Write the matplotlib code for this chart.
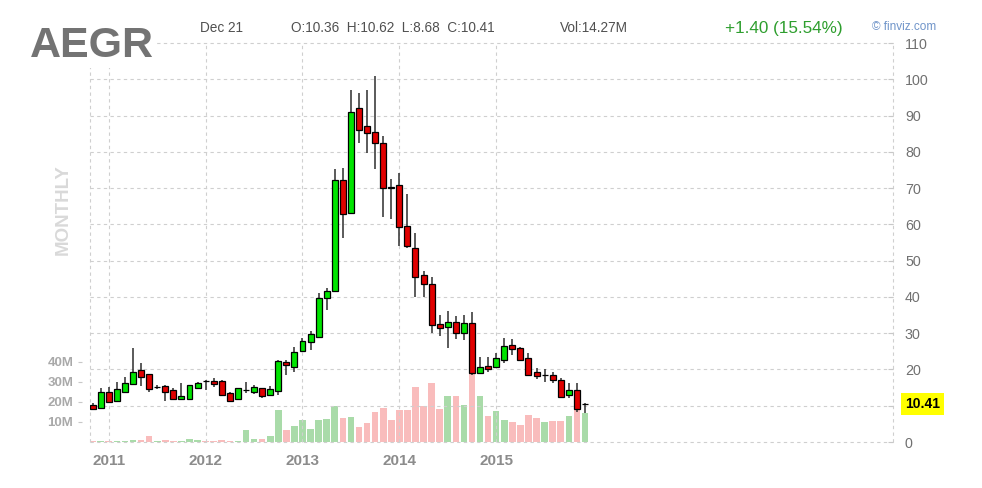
import matplotlib
matplotlib.use("Agg")
import matplotlib.pyplot as plt
import matplotlib.transforms as mtransforms
from matplotlib import font_manager
import numpy as np
import pandas as pd

# ---------------- data ----------------
ticker = "AEGR"
period_label = "MONTHLY"
start_month = "2010-11"

opens = [10.2, 9.3, 13.9, 11.3, 13.9, 16.0, 19.9, 18.8, 15.2, 15.5,
         14.2, 11.9, 11.8, 15.0, 16.9, 16.9, 16.9, 13.4, 11.9, 14.2,
         13.9, 14.8, 13.0, 14.0, 22.1, 20.8, 25.2, 27.7, 29.0, 39.8,
         41.7, 72.2, 63.1, 92.2, 87.1, 85.6, 82.4, 70.4, 70.9, 59.6,
         53.4, 46.0, 43.6, 32.6, 31.6, 33.2, 30.1, 32.9, 19.1, 21.0,
         20.6, 22.6, 26.7, 26.0, 23.1, 19.4, 18.4, 18.5, 17.1, 13.0,
         14.2, 10.36]
highs = [10.8, 14.8, 15.3, 16.6, 18.0, 25.8, 21.7, 18.8, 15.8, 15.7,
         14.8, 16.4, 15.8, 16.6, 17.1, 17.6, 17.1, 13.9, 15.0, 16.6,
         15.7, 14.8, 15.4, 22.6, 22.6, 26.1, 28.6, 30.6, 41.0, 42.4,
         75.2, 75.5, 97.1, 96.3, 97.1, 100.8, 84.4, 72.4, 74.1, 68.4,
         57.7, 47.2, 45.4, 35.0, 36.2, 34.6, 35.0, 35.9, 23.3, 23.3,
         24.6, 28.6, 28.3, 26.3, 24.4, 20.3, 20.1, 19.4, 17.7, 16.2,
         16.4, 10.62]
lows = [8.7, 9.0, 11.0, 11.1, 13.6, 15.7, 15.4, 13.9, 14.6, 11.4,
        11.6, 11.6, 11.6, 14.5, 14.2, 15.3, 12.8, 11.1, 11.8, 13.4,
        13.2, 12.0, 12.8, 13.0, 18.5, 19.4, 24.9, 25.4, 28.8, 36.4,
        41.5, 56.2, 62.9, 82.5, 79.6, 75.2, 61.9, 61.4, 54.0, 53.4,
        40.1, 40.0, 30.0, 29.1, 25.8, 28.3, 28.1, 18.5, 18.9, 19.4,
        20.3, 21.7, 24.0, 22.4, 18.2, 17.3, 16.6, 16.4, 12.3, 12.0,
        8.4, 7.9]
closes = [9.2, 13.9, 11.1, 14.5, 16.2, 19.4, 18.0, 14.5, 15.3, 13.9,
          11.8, 12.8, 15.7, 16.4, 16.8, 16.0, 13.0, 11.4, 14.8, 14.4,
          15.1, 12.7, 14.5, 22.3, 21.1, 24.7, 27.8, 29.7, 39.8, 41.7,
          72.2, 62.9, 91.1, 86.0, 85.3, 82.4, 69.9, 70.1, 59.4, 53.9,
          45.4, 43.6, 32.2, 31.3, 33.2, 30.1, 32.9, 18.9, 20.8, 20.0,
          23.1, 26.5, 25.6, 22.6, 18.5, 18.2, 18.5, 17.1, 12.5, 14.2,
          9.01, 10.41]
volumes_m = [0.3, 0.3, 0.3, 0.4, 0.7, 1.0, 0.8, 2.9, 0.4, 0.8,
             0.5, 0.7, 1.6, 0.9, 0.3, 0.5, 1.0, 0.5, 0.5, 6.2,
             1.6, 1.4, 2.9, 16.0, 6.2, 7.9, 10.9, 6.6, 10.8, 11.3,
             17.9, 12.1, 12.6, 7.4, 9.6, 14.9, 16.8, 10.9, 16.2, 16.2,
             27.6, 18.1, 29.6, 16.6, 22.9, 22.9, 18.7, 34.6, 22.9, 12.9,
             15.4, 11.2, 9.9, 8.7, 13.4, 12.1, 10.1, 10.7, 10.7, 12.9,
             16.6, 14.27]

price_ticks = [0, 10, 20, 30, 40, 50, 60, 70, 80, 90, 100, 110]
vol_ticks = [10, 20, 30, 40]
vol_tick_labels = ["10M", "20M", "30M", "40M"]

header_date = "Dec 21"
header_ohlc = "O:10.36  H:10.62  L:8.68  C:10.41"
header_vol = "Vol:14.27M"
header_change = "+1.40 (15.54%)"
header_brand = "\u00a9 finviz.com"
last_price_label = "10.41"

# ---------------- derived ----------------
months = pd.period_range(start_month, periods=len(opens), freq="M")
x = np.arange(len(opens))
o = np.array(opens); h = np.array(highs); l = np.array(lows); c = np.array(closes)
v = np.array(volumes_m)
up = c >= o
year_idx = [i for i, m in enumerate(months) if m.month == 1]
year_labels = [str(months[i].year) for i in year_idx]

# ---------------- styling ----------------
W, H = 982, 488
names = {f.name for f in font_manager.fontManager.ttflist}
if "Liberation Sans Narrow" in names:
    hdr_family = ["Liberation Sans Narrow", "DejaVu Sans"]
    hscale = 1.0
else:
    hdr_family = ["Liberation Sans", "DejaVu Sans"]
    hscale = 0.85
plt.rcParams["font.family"] = ["Liberation Sans", "DejaVu Sans"]

GREEN = "#00e400"
RED = "#e00000"
VGREEN = "#a9dba9"
VRED = "#f9bcbc"
GRID = "#cfcfcf"

fig = plt.figure(figsize=(W / 100, H / 100), dpi=100)
fig.patch.set_facecolor("white")
rect = [90 / W, 46 / H, 803 / W, 399 / H]
xlim = (-0.33, 99.17)

# volume axes (background)
ax_v = fig.add_axes(rect, zorder=0)
ax_v.set_xlim(*xlim)
ax_v.set_ylim(0, 199.5)
ax_v.bar(x, v, width=0.82, color=np.where(up, VGREEN, VRED), linewidth=0)
for s in ax_v.spines.values():
    s.set_visible(False)
ax_v.set_xticks([])
ax_v.set_yticks(vol_ticks)
ax_v.set_yticklabels(vol_tick_labels, fontweight="bold")
ax_v.tick_params(axis="y", length=0, pad=12, labelsize=9.5, labelcolor="#a9a9a9")
tr_v = mtransforms.blended_transform_factory(ax_v.transAxes, ax_v.transData)
ax_v.plot([-10 / 803] * len(vol_ticks), vol_ticks, ls="none", marker="_",
          ms=3.5, mew=0.8, color="#c8c8c8", transform=tr_v, clip_on=False)

# price axes (foreground)
ax = fig.add_axes(rect, zorder=1)
ax.patch.set_alpha(0)
ax.set_xlim(*xlim)
ax.set_ylim(0, 110)
for s in ax.spines.values():
    s.set_visible(False)

for p in price_ticks:
    ax.axhline(p, color=GRID, lw=0.8, ls=(0, (3, 3)), zorder=0, clip_on=False)
for xi in list(year_idx) + list(xlim):
    ax.axvline(xi, color=GRID, lw=0.8, ls=(0, (3, 3)), zorder=0, clip_on=False)

ax.vlines(x, l, h, color="#2e2e2e", lw=1.1, zorder=2)
ax.bar(x, np.abs(c - o), bottom=np.minimum(o, c), width=0.74,
       color=np.where(up, GREEN, RED), edgecolor="black", linewidth=0.9, zorder=3)

# the last-price box takes the place of the nearest round label
near = min(price_ticks, key=lambda p: abs(p - c[-1]))
ax.yaxis.tick_right()
ax.set_yticks(price_ticks)
ax.set_yticklabels(["" if p == near else str(p) for p in price_ticks])
ax.tick_params(axis="y", direction="in", length=3.5, width=0.8, color="#c8c8c8",
               pad=8.6, labelsize=10.3, labelcolor="#707070")
ax.set_xticks(year_idx)
ax.set_xticklabels(year_labels, fontweight="bold")
ax.tick_params(axis="x", length=0, pad=8.5, labelsize=11, labelcolor="#8c8c8c")

tr_p = mtransforms.blended_transform_factory(ax.transAxes, ax.transData)
ax.text(1 + 12 / 803, c[-1], last_price_label, transform=tr_p, ha="left", va="center",
        fontsize=10, fontweight="bold", color="black", zorder=10, clip_on=False,
        bbox=dict(boxstyle="square,pad=0.3", facecolor="#ffff00", edgecolor="none"))

# header texts
fig.text(30 / W, 1 - 57 / H, ticker, ha="left", va="baseline", fontsize=31,
         fontweight="bold", color="#737373", zorder=10,
         bbox=dict(boxstyle="square,pad=0.05", facecolor="white", edgecolor="none"))
fig.text(63 / W, 1 - 210 / H, period_label, rotation=90, ha="center", va="center",
         fontsize=13.5, fontweight="bold", color="#d9d9d9")
hy = 1 - 28 / H
fig.text(200 / W, hy, header_date, ha="left", va="center", fontsize=11.5 * hscale,
         color="#505050", family=hdr_family)
fig.text(291 / W, hy, header_ohlc, ha="left", va="center", fontsize=11.5 * hscale,
         color="#505050", family=hdr_family)
fig.text(560 / W, hy, header_vol, ha="left", va="center", fontsize=11.5 * hscale,
         color="#505050", family=hdr_family)
fig.text(725 / W, hy, header_change, ha="left", va="center", fontsize=14.5 * hscale,
         color="#2e9e2e", family=hdr_family)
fig.text(872 / W, 1 - 27 / H, header_brand, ha="left", va="center", fontsize=10 * hscale,
         color="#6f94c9", family=hdr_family)

fig.savefig("out.png", dpi=100)
